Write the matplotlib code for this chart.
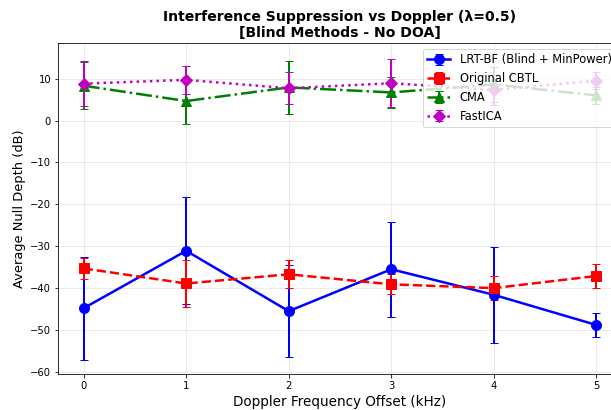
import numpy as np
import matplotlib.pyplot as plt

# Doppler offsets (kHz)
doppler = [0, 1, 2, 3, 4, 5]

# Average null depth (dB) and std per method
lrt_mean = [-44.8, -31.1, -45.5, -35.5, -41.6, -48.8]
lrt_std = [12.3, 12.8, 11.0, 11.3, 11.5, 2.8]
cbtl_mean = [-35.3, -38.9, -36.7, -39.1, -40.0, -37.1]
cbtl_std = [2.6, 5.6, 3.3, 2.4, 2.8, 2.9]
cma_mean = [8.3, 4.65, 7.9, 6.7, 8.6, 6.0]
cma_std = [5.6, 5.5, 6.3, 3.8, 4.2, 2.0]
ica_mean = [8.8, 9.7, 7.7, 8.9, 7.3, 9.5]
ica_std = [5.3, 3.4, 3.8, 5.7, 3.5, 2.0]

DPI = 72
fig = plt.figure(figsize=(611 / DPI, 410 / DPI), dpi=DPI)
ax = fig.add_axes([58 / 611, 36 / 410, 564 / 611, 331 / 410])

ax.errorbar(doppler, lrt_mean, yerr=lrt_std, fmt='o-', color='blue',
            linewidth=2.5, markersize=10, capsize=4, elinewidth=2,
            label='LRT-BF (Blind + MinPower)')
ax.errorbar(doppler, cbtl_mean, yerr=cbtl_std, fmt='s--', color='red',
            linewidth=2.5, markersize=10, capsize=4, elinewidth=2,
            label='Original CBTL')
ax.errorbar(doppler, cma_mean, yerr=cma_std, fmt='^-.', color='green',
            linewidth=2.5, markersize=10, capsize=4, elinewidth=2,
            label='CMA')
ax.errorbar(doppler, ica_mean, yerr=ica_std, fmt='D:', color='m',
            linewidth=2.5, markersize=8.5, capsize=4, elinewidth=2,
            label='FastICA')

ax.set_xlim(-0.25, 5.25)
ax.set_ylim(-60.5, 18.5)
ax.set_xlabel('Doppler Frequency Offset (kHz)', fontsize=13.5)
ax.set_ylabel('Average Null Depth (dB)', fontsize=13)
ax.set_title('Interference Suppression vs Doppler (λ=0.5)\n[Blind Methods - No DOA]',
             fontsize=14, fontweight='bold')
ax.grid(True, alpha=0.3)
ax.legend(loc='upper right', fontsize=11.5)

fig.savefig('out.png', dpi=DPI)
